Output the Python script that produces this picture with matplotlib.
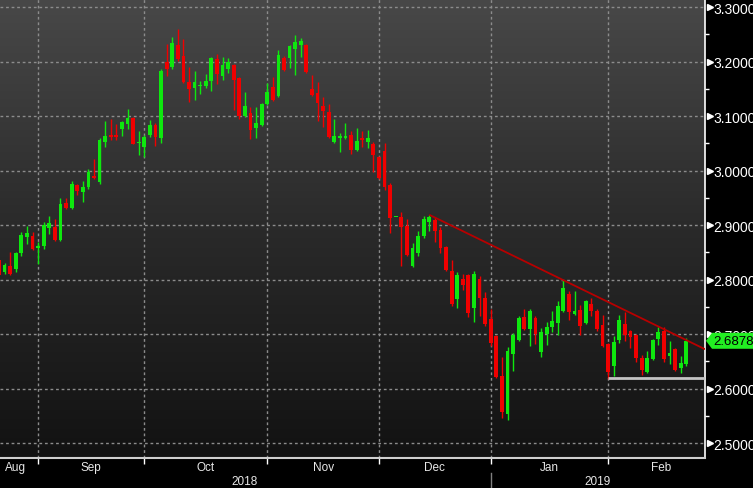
import numpy as np
import matplotlib
matplotlib.use("Agg")
import matplotlib.pyplot as plt
from matplotlib.transforms import blended_transform_factory
from matplotlib.patches import Polygon
from matplotlib.lines import Line2D
from matplotlib.colors import LinearSegmentedColormap
from matplotlib.ticker import FormatStrFormatter

plt.rcParams['font.family'] = ['Liberation Sans', 'DejaVu Sans']

# ---------------- data (daily OHLC, Aug 2018 - Feb 2019) ----------------
opens = [2.836, 2.814, 2.825, 2.820, 2.849, 2.878, 2.880, 2.858, 2.862, 2.895,
         2.897, 2.873, 2.941, 2.931, 2.974, 2.961, 2.970, 2.990, 2.979, 3.053,
         3.065, 3.065, 3.076, 3.086, 3.097, 3.051, 3.043, 3.065, 3.084, 3.060,
         3.199, 3.190, 3.231, 3.210, 3.163, 3.152, 3.155, 3.155, 3.165, 3.205,
         3.174, 3.187, 3.194, 3.170, 3.100, 3.106, 3.078, 3.084, 3.122, 3.154,
         3.137, 3.207, 3.207, 3.223, 3.231, 3.231, 3.150, 3.143, 3.119, 3.108,
         3.053, 3.060, 3.060, 3.065, 3.038, 3.060, 3.053, 3.049, 3.025, 3.036,
         2.974, 2.915, 2.915, 2.898, 2.825, 2.849, 2.880, 2.906, 2.909, 2.891,
         2.860, 2.816, 2.765, 2.801, 2.809, 2.748, 2.801, 2.766, 2.728, 2.697,
         2.623, 2.553, 2.664, 2.689, 2.731, 2.710, 2.730, 2.667, 2.700, 2.713,
         2.720, 2.742, 2.774, 2.737, 2.744, 2.720, 2.755, 2.742, 2.717, 2.682,
         2.642, 2.689, 2.719, 2.706, 2.698, 2.656, 2.631, 2.654, 2.691, 2.706,
         2.660, 2.673, 2.638, 2.645]
highs = [2.840, 2.831, 2.851, 2.851, 2.887, 2.898, 2.887, 2.869, 2.906, 2.917,
         2.911, 2.950, 2.950, 2.981, 2.976, 2.981, 3.003, 3.021, 3.060, 3.091,
         3.095, 3.086, 3.091, 3.113, 3.098, 3.073, 3.065, 3.093, 3.087, 3.187,
         3.232, 3.245, 3.260, 3.242, 3.190, 3.183, 3.165, 3.177, 3.209, 3.214,
         3.209, 3.207, 3.196, 3.172, 3.144, 3.117, 3.117, 3.124, 3.161, 3.172,
         3.221, 3.210, 3.231, 3.249, 3.243, 3.232, 3.176, 3.163, 3.135, 3.122,
         3.095, 3.069, 3.087, 3.073, 3.078, 3.073, 3.075, 3.053, 3.027, 3.051,
         2.977, 2.915, 2.924, 2.911, 2.867, 2.889, 2.917, 2.919, 2.915, 2.897,
         2.862, 2.836, 2.814, 2.810, 2.810, 2.816, 2.807, 2.777, 2.746, 2.698,
         2.658, 2.676, 2.702, 2.733, 2.746, 2.746, 2.733, 2.711, 2.722, 2.742,
         2.761, 2.799, 2.779, 2.779, 2.754, 2.763, 2.766, 2.746, 2.735, 2.684,
         2.697, 2.735, 2.741, 2.708, 2.700, 2.662, 2.669, 2.691, 2.713, 2.713,
         2.687, 2.675, 2.660, 2.693]
lows = [2.805, 2.810, 2.808, 2.814, 2.843, 2.865, 2.855, 2.829, 2.856, 2.884,
        2.871, 2.871, 2.930, 2.930, 2.955, 2.943, 2.966, 2.985, 2.976, 3.043,
        3.056, 3.056, 3.064, 3.076, 3.048, 3.029, 3.025, 3.062, 3.045, 3.051,
        3.174, 3.187, 3.201, 3.161, 3.126, 3.130, 3.141, 3.152, 3.146, 3.159,
        3.166, 3.179, 3.111, 3.095, 3.098, 3.058, 3.060, 3.082, 3.120, 3.128,
        3.135, 3.183, 3.188, 3.176, 3.209, 3.179, 3.137, 3.091, 3.080, 3.060,
        3.051, 3.034, 3.058, 3.031, 3.036, 3.043, 3.042, 2.998, 2.985, 2.965,
        2.886, 2.915, 2.825, 2.843, 2.823, 2.843, 2.876, 2.889, 2.869, 2.849,
        2.816, 2.752, 2.748, 2.781, 2.731, 2.722, 2.733, 2.715, 2.678, 2.620,
        2.546, 2.542, 2.632, 2.687, 2.708, 2.678, 2.682, 2.658, 2.680, 2.704,
        2.698, 2.741, 2.726, 2.735, 2.698, 2.719, 2.733, 2.706, 2.676, 2.618,
        2.623, 2.684, 2.687, 2.675, 2.649, 2.625, 2.629, 2.653, 2.680, 2.649,
        2.645, 2.632, 2.629, 2.642]
closes = [2.809, 2.827, 2.810, 2.849, 2.882, 2.886, 2.856, 2.862, 2.900, 2.904,
          2.873, 2.939, 2.931, 2.976, 2.963, 2.970, 2.998, 2.987, 3.056, 3.064,
          3.062, 3.062, 3.089, 3.097, 3.049, 3.053, 3.062, 3.084, 3.062, 3.183,
          3.187, 3.234, 3.205, 3.163, 3.150, 3.163, 3.157, 3.165, 3.207, 3.177,
          3.194, 3.199, 3.166, 3.100, 3.119, 3.075, 3.087, 3.122, 3.144, 3.130,
          3.212, 3.185, 3.229, 3.236, 3.238, 3.181, 3.139, 3.124, 3.109, 3.062,
          3.064, 3.064, 3.064, 3.038, 3.054, 3.056, 3.060, 3.029, 2.987, 2.970,
          2.913, 2.915, 2.897, 2.845, 2.858, 2.880, 2.911, 2.915, 2.889, 2.858,
          2.818, 2.755, 2.809, 2.790, 2.739, 2.810, 2.766, 2.719, 2.684, 2.621,
          2.557, 2.669, 2.698, 2.730, 2.710, 2.742, 2.700, 2.704, 2.713, 2.724,
          2.752, 2.785, 2.741, 2.742, 2.715, 2.761, 2.742, 2.710, 2.678, 2.631,
          2.686, 2.726, 2.698, 2.695, 2.656, 2.634, 2.656, 2.689, 2.704, 2.654,
          2.665, 2.634, 2.647, 2.6878]

months = ['Aug', 'Sep', 'Oct', 'Nov', 'Dec', 'Jan', 'Feb']
month_start_idx = [7, 26, 48, 68, 88, 109]        # first trading day of Sep..Feb
years = ['2018', '2019']
yticks = [2.5, 2.6, 2.7, 2.8, 2.9, 3.0, 3.1, 3.2, 3.3]

trend_idx = [77, 101]          # resistance line anchored at these highs
trend_val = [2.919, 2.799]
support_start_idx = 109
support_val = 2.619
last_value = 2.6878

# ---------------- figure ----------------
W, H = 753, 489
fig = plt.figure(figsize=(W / 100, H / 100), dpi=100, facecolor='black')
ax = fig.add_axes([0, 30 / H, 705 / W, 459 / H])
ax.set_facecolor('black')

x_left, x_right = 0.18, 126.34
y_low, y_high = 2.4727, 3.315

# background gradient
cmap = LinearSegmentedColormap.from_list('bg', ['#121212', '#2a2a2a', '#484848'])
grad = np.linspace(0, 1, 256).reshape(-1, 1)
ax.imshow(grad, extent=[0, 1, 0, 1], transform=ax.transAxes, origin='lower',
          aspect='auto', cmap=cmap, zorder=0)

# grid
for v in yticks:
    ax.axhline(v, color='#8c8c8c', lw=1.0, ls=(0, (2, 2)), zorder=1)
for i in month_start_idx:
    ax.axvline(i, color='#8c8c8c', lw=1.0, ls=(0, (2, 2)), zorder=1)

# candles
o = np.array(opens); h = np.array(highs); l = np.array(lows); c = np.array(closes)
x = np.arange(len(o))
up = c >= o
colors = np.where(up, '#0ee80e', '#f00000')
ax.vlines(x, l, h, colors=colors, lw=1.0, zorder=3)
bottoms = np.minimum(o, c)
heights = np.maximum(np.abs(c - o), 0.0018)
ax.bar(x, heights, bottom=bottoms, width=0.68, color=colors, linewidth=0, zorder=4)

# resistance trend line (extended to right edge)
slope = (trend_val[1] - trend_val[0]) / (trend_idx[1] - trend_idx[0])
ax.plot([trend_idx[0], x_right], [trend_val[0], trend_val[0] + slope * (x_right - trend_idx[0])],
        color='#b80000', lw=1.3, zorder=5, solid_capstyle='butt')
# support line
ax.hlines(support_val, support_start_idx, x_right, color='#c4c4c4', lw=2.0, zorder=5)

ax.set_xlim(x_left, x_right)
ax.set_ylim(y_low, y_high)

# spines
for s in ['left', 'top']:
    ax.spines[s].set_visible(False)
ax.spines['bottom'].set_color('#cfcfcf')
ax.spines['bottom'].set_linewidth(1.5)
ax.spines['right'].set_color('white')
ax.spines['right'].set_linewidth(1.2)

# y axis on the right
ax.yaxis.tick_right()
ax.set_yticks(yticks)
ax.yaxis.set_major_formatter(FormatStrFormatter('%.4f'))
ax.set_yticks(np.arange(2.55, 3.3, 0.1), minor=True)
ax.tick_params(axis='y', which='major', length=0, pad=6, labelcolor='white', labelsize=10)
ax.tick_params(axis='y', which='minor', length=3, width=1, color='white', direction='out')
tr = blended_transform_factory(ax.transAxes, ax.transData)
ax.plot([709.5 / 705] * len(yticks), yticks, linestyle='none', marker='>', ms=5,
        color='white', transform=tr, clip_on=False, zorder=6)

# x axis: month boundary ticks + month labels
ax.set_xticks(month_start_idx)
ax.set_xticklabels([])
ax.tick_params(axis='x', which='major', length=4, width=1, color='white', direction='out')
mids = [2.9] + [(a + b) / 2 for a, b in zip(month_start_idx, month_start_idx[1:] + [128])]
ax.set_xticks(mids, minor=True)
ax.set_xticklabels(months, minor=True)
ax.tick_params(axis='x', which='minor', length=0, pad=2.5, labelcolor='#e8e8e8', labelsize=8.5)

# year labels and separator
fig.text(245 / W, 7 / H, years[0], ha='center', va='center', color='#e8e8e8', fontsize=8.5)
fig.text(598 / W, 7 / H, years[1], ha='center', va='center', color='#e8e8e8', fontsize=8.5)
fig.add_artist(Line2D([491 / W, 491 / W], [0, 15 / H], color='#808080', lw=1))

# last value tag
hh = 8 * (y_high - y_low) / 459
tag = Polygon([(706 / 705, last_value), (712 / 705, last_value + hh), (1.08, last_value + hh),
               (1.08, last_value - hh), (712 / 705, last_value - hh)],
              closed=True, facecolor='#22ee22', edgecolor='none', transform=tr,
              clip_on=False, zorder=10)
ax.add_patch(tag)
ax.text(713 / 705, last_value, f'{last_value:.4f}', transform=tr, ha='left', va='center',
        color='black', fontsize=9.5, zorder=11, clip_on=False)

fig.savefig('out.png', dpi=100, facecolor='black')
